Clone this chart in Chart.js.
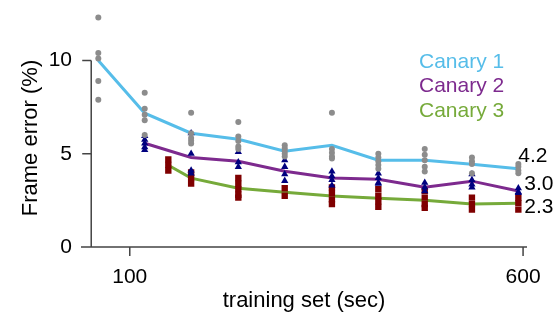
<!DOCTYPE html>
<html>
<head>
<meta charset="utf-8">
<script src="https://cdn.jsdelivr.net/npm/chart.js@4.4.0/dist/chart.umd.min.js"></script>
<style>
  html, body { margin: 0; padding: 0; background: #fff; }
  canvas { display: block; }
</style>
</head>
<body>
<canvas id="frameErrorChart" width="553" height="325" style="width:553px;height:325px"></canvas>
<script>
const seriesNames = ["Canary 1", "Canary 2", "Canary 3"];
const endLabels = ["4.2", "3.0", "2.3"];
const xTicks = [100, 600];
const yTicks = [0, 5, 10];

const c1X = [60, 119, 178, 238, 297, 357, 416, 475, 535, 594];
const c1Mean = [10.0, 7.17, 6.1, 5.78, 5.13, 5.45, 4.65, 4.65, 4.44, 4.2];
const c2X = [119, 178, 238, 297, 357, 416, 475, 535, 594];
const c2Mean = [5.56, 4.8, 4.6, 4.06, 3.7, 3.63, 3.2, 3.53, 3.0];
const c3X = [149, 178, 238, 297, 357, 416, 475, 535, 594];
const c3Mean = [4.38, 3.69, 3.15, 2.94, 2.73, 2.62, 2.51, 2.3, 2.35];

// single runs for each training set size
const c1Runs = [
  [12.3, 10.4, 10.1, 8.9, 7.9],
  [8.27, 7.41, 7.09, 6.79, 6.0],
  [7.2, 6.1, 5.85, 5.7, 5.55],
  [6.7, 5.93, 5.68, 5.39, 5.25],
  [5.45, 5.3, 5.15, 5.0, 4.85],
  [7.2, 5.25, 5.05, 4.85, 4.75],
  [5.0, 4.8, 4.6, 4.4, 4.2],
  [5.25, 4.95, 4.65, 4.3, 4.05],
  [4.8, 4.6, 4.45, 3.95],
  [4.45, 4.3, 4.1, 3.95]
];
const c2Runs = [
  [5.95, 5.75, 5.55, 5.35, 5.2],
  [6.1, 5.0, 4.1, 3.95],
  [5.1, 4.55, 4.3],
  [4.65, 4.3, 3.9, 3.55],
  [4.05, 3.8, 3.6, 3.3],
  [3.95, 3.7, 3.45, 3.4],
  [3.45, 3.2, 3.0],
  [3.9, 3.6, 3.35, 3.2],
  [3.15, 2.95, 2.9]
];
const c3Runs = [
  [4.7, 4.4, 4.1],
  [4.0, 3.7, 3.4],
  [3.7, 3.4, 3.1, 2.8, 2.65],
  [3.15, 2.75],
  [3.2, 2.9, 2.55, 2.3],
  [3.1, 2.75, 2.45, 2.15],
  [3.0, 2.65, 2.3, 2.1],
  [2.65, 2.3, 2.0],
  [2.65, 2.35, 2.0]
];

const FONT = '"Liberation Sans", Arial, sans-serif';
const lineColors = ["#56bde9", "#7d2a8e", "#76aa3a"];
const markColors = ["#8c8c8c", "#00007f", "#7f0000"];

const toPoints = (xs, runs) => {
  const pts = [];
  xs.forEach((x, i) => runs[i].forEach(v => pts.push({ x: x, y: v })));
  return pts;
};
const toLine = (xs, ys) => xs.map((x, i) => ({ x: x, y: ys[i] }));

const noPad = s => { s.paddingTop = 0; s.paddingBottom = 0; s.paddingLeft = 0; s.paddingRight = 0; };

const axisPlugin = {
  id: "axisPlugin",
  afterDraw(chart) {
    const { ctx, scales: { x, y }, chartArea } = chart;
    const y0 = y.getPixelForValue(0);
    const xAxisPos = x.getPixelForValue(51);
    ctx.save();
    ctx.strokeStyle = "#444";
    ctx.lineWidth = 1.5;
    ctx.beginPath();
    ctx.moveTo(chartArea.left, y0);
    ctx.lineTo(chartArea.right, y0);
    ctx.moveTo(xAxisPos, y0);
    ctx.lineTo(xAxisPos, y.getPixelForValue(10));
    yTicks.forEach(v => {
      const py = y.getPixelForValue(v);
      ctx.moveTo(xAxisPos - 9, py);
      ctx.lineTo(xAxisPos, py);
    });
    xTicks.forEach(v => {
      const px = x.getPixelForValue(v);
      ctx.moveTo(px, y0);
      ctx.lineTo(px, y0 + 9);
    });
    ctx.stroke();

    // y title
    ctx.fillStyle = "#000";
    ctx.font = "22px " + FONT;
    ctx.textAlign = "center";
    ctx.textBaseline = "middle";
    ctx.translate(31, 138);
    ctx.rotate(-Math.PI / 2);
    ctx.fillText("Frame error (%)", 0, 0);
    ctx.restore();

    // legend text
    ctx.save();
    ctx.font = "21px " + FONT;
    ctx.textAlign = "left";
    ctx.textBaseline = "middle";
    seriesNames.forEach((n, i) => {
      ctx.fillStyle = lineColors[i];
      ctx.fillText(n, 419, 62 + i * 24.5);
    });

    // final values
    ctx.fillStyle = "#000";
    const endX = x.getPixelForValue(594);
    const offs = [[0, 156], [6, 184], [6, 207]];
    endLabels.forEach((t, i) => {
      ctx.fillText(t, endX + offs[i][0], offs[i][1]);
    });
    ctx.restore();
  }
};

const ctx = document.getElementById("frameErrorChart");
new Chart(ctx, {
  type: "line",
  data: {
    datasets: [
      { type: "scatter", data: toPoints(c1X, c1Runs), pointStyle: "circle", pointRadius: 3,
        backgroundColor: markColors[0], borderWidth: 0, order: 0 },
      { type: "scatter", data: toPoints(c2X, c2Runs), pointStyle: "triangle", pointRadius: 4.2,
        backgroundColor: markColors[1], borderWidth: 0, order: 0 },
      { type: "scatter", data: toPoints(c3X, c3Runs), pointStyle: "rect", pointRadius: 4.5,
        backgroundColor: markColors[2], borderWidth: 0, order: 0 },
      { data: toLine(c1X, c1Mean), borderColor: lineColors[0], borderWidth: 3, pointRadius: 0, order: 1 },
      { data: toLine(c2X, c2Mean), borderColor: lineColors[1], borderWidth: 3, pointRadius: 0, order: 1 },
      { data: toLine(c3X, c3Mean), borderColor: lineColors[2], borderWidth: 3, pointRadius: 0, order: 1 }
    ]
  },
  options: {
    responsive: false,
    animation: false,
    layout: { padding: { top: 4, right: 26, left: 0, bottom: 0 } },
    plugins: { legend: { display: false }, tooltip: { enabled: false } },
    scales: {
      x: {
        type: "linear", min: 38, max: 605,
        grid: { display: false, drawTicks: false },
        border: { display: false },
        afterBuildTicks: s => { s.ticks = xTicks.map(v => ({ value: v })); },
        afterFit: s => { s.height = 78; noPad(s); },
        ticks: { font: { family: FONT, size: 21 }, color: "#000", padding: 18, maxRotation: 0 },
        title: { display: true, text: "training set (sec)", color: "#000",
          font: { family: FONT, size: 22 }, padding: { top: 0, bottom: 11 } }
      },
      y: {
        type: "linear", min: 0, max: 13,
        grid: { display: false, drawTicks: false },
        border: { display: false },
        afterBuildTicks: s => { s.ticks = yTicks.map(v => ({ value: v })); },
        afterFit: s => { s.width = 81; noPad(s); },
        ticks: { font: { family: FONT, size: 21 }, color: "#000", padding: 9 }
      }
    }
  },
  plugins: [axisPlugin]
});
</script>
</body>
</html>
